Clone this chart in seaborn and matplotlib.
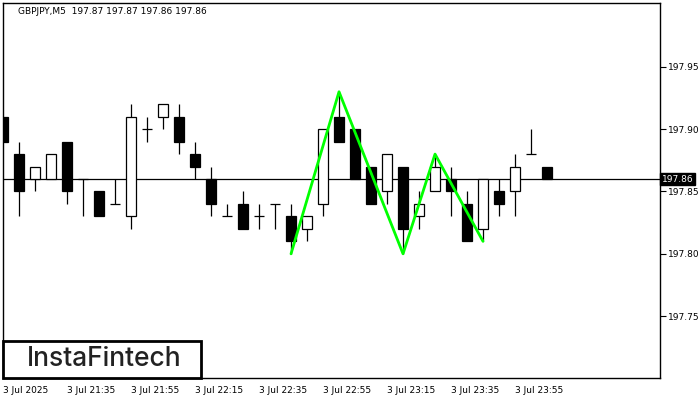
import matplotlib
matplotlib.use("Agg")
import matplotlib.pyplot as plt
import matplotlib.patches as patches
import seaborn as sns
import pandas as pd

# -----------------------------
# Data (GBPJPY M5)
# -----------------------------
opens = [197.91, 197.88, 197.86, 197.86, 197.89, 197.86, 197.85, 197.84, 197.83, 197.90,
         197.91, 197.91, 197.88, 197.86, 197.83, 197.84, 197.83, 197.84, 197.83, 197.82,
         197.84, 197.91, 197.90, 197.87, 197.85, 197.87, 197.83, 197.85, 197.86, 197.84,
         197.82, 197.85, 197.85, 197.88, 197.87]
highs = [197.91, 197.89, 197.87, 197.88, 197.89, 197.86, 197.85, 197.86, 197.92, 197.91,
         197.92, 197.92, 197.89, 197.87, 197.84, 197.85, 197.84, 197.84, 197.84, 197.83,
         197.90, 197.93, 197.90, 197.87, 197.88, 197.87, 197.85, 197.88, 197.87, 197.85,
         197.86, 197.86, 197.88, 197.90, 197.87]
lows = [197.89, 197.83, 197.85, 197.86, 197.84, 197.83, 197.83, 197.84, 197.82, 197.89,
        197.90, 197.88, 197.86, 197.83, 197.83, 197.82, 197.82, 197.82, 197.80, 197.81,
        197.83, 197.89, 197.86, 197.84, 197.84, 197.80, 197.82, 197.85, 197.83, 197.81,
        197.81, 197.83, 197.83, 197.88, 197.86]
closes = [197.89, 197.85, 197.87, 197.88, 197.85, 197.86, 197.83, 197.84, 197.91, 197.90,
          197.92, 197.89, 197.87, 197.84, 197.83, 197.82, 197.83, 197.84, 197.81, 197.83,
          197.90, 197.89, 197.86, 197.84, 197.88, 197.82, 197.84, 197.87, 197.85, 197.81,
          197.86, 197.84, 197.87, 197.88, 197.86]

# zigzag pattern (bar index, price)
pattern_idx = [18, 21, 25, 27, 30]
pattern_price = [197.80, 197.93, 197.80, 197.88, 197.81]

x_tick_idx = [0, 4, 8, 12, 16, 20, 24, 28, 32]
x_tick_labels = ["3 Jul 2025", "3 Jul 21:35", "3 Jul 21:55", "3 Jul 22:15", "3 Jul 22:35",
                 "3 Jul 22:55", "3 Jul 23:15", "3 Jul 23:35", "3 Jul 23:55"]
y_ticks = [197.75, 197.80, 197.85, 197.90, 197.95]
last_price = 197.86
header = "GBPJPY,M5  197.87 197.87 197.86 197.86"

df = pd.DataFrame({"open": opens, "high": highs, "low": lows, "close": closes})
df["idx"] = range(len(df))

sns.set_style("white")
plt.rcParams["font.family"] = ["DejaVu Sans"]

fig = plt.figure(figsize=(7, 4), dpi=100)
ax = fig.add_axes([3 / 700, 22 / 400, 657 / 700, 375 / 400])

lw = 0.9
body_w = 0.62

# -----------------------------
# Candles
# -----------------------------
ax.axhline(last_price, color="black", lw=lw, zorder=1)
ax.vlines(df["idx"], df["low"], df["high"], color="black", lw=lw, zorder=2)
for _, r in df.iterrows():
    lo = min(r["open"], r["close"])
    hi = max(r["open"], r["close"])
    if hi - lo < 1e-9:
        ax.hlines(r["open"], r["idx"] - body_w / 2, r["idx"] + body_w / 2,
                  color="black", lw=lw, zorder=3)
    else:
        face = "white" if r["close"] > r["open"] else "black"
        ax.bar(r["idx"], hi - lo, bottom=lo, width=body_w, color=face,
               edgecolor="black", linewidth=lw, zorder=3)

# -----------------------------
# Pattern line
# -----------------------------
sns.lineplot(x=pattern_idx, y=pattern_price, ax=ax, color="#00ff00", lw=2,
             zorder=4, sort=False)

# -----------------------------
# Axes styling
# -----------------------------
ax.set_xlim(0, 41.06)
ax.set_ylim(197.7004, 198.0012)
for s in ax.spines.values():
    s.set_color("black")
    s.set_linewidth(1)

ax.set_xticks(x_tick_idx)
ax.set_xticklabels(x_tick_labels, ha="left", fontsize=6.5)
ax.yaxis.tick_right()
ax.set_yticks(y_ticks)
ax.set_yticklabels([f"{v:.2f}" for v in y_ticks], fontsize=6.5)
ax.tick_params(axis="both", direction="out", length=4, width=0.8, color="black",
               pad=2, labelcolor="black")
ax.grid(False)

# current price label
ax.text(1.003, last_price, f"{last_price:.2f}", transform=ax.get_yaxis_transform(),
        va="center", ha="left", fontsize=6.5, color="white",
        bbox=dict(boxstyle="square,pad=0.2", fc="black", ec="black"))

# header
fig.text(18 / 700, 1 - 11 / 400, header, fontsize=6.5, va="center", ha="left",
         color="black")

# logo box
ax.add_patch(patches.Rectangle((0, 0), 198 / 657, 37 / 375, transform=ax.transAxes,
                               fill=True, fc="white", ec="black", lw=2, zorder=5,
                               clip_on=False))
ax.text(101 / 657, 18.5 / 375, "InstaFintech", transform=ax.transAxes, ha="center",
        va="center", fontsize=19, color="#222222", fontweight="medium",
        family=["Inter", "DejaVu Sans"], zorder=6)

plt.savefig("out.png", dpi=100)
plt.close()
